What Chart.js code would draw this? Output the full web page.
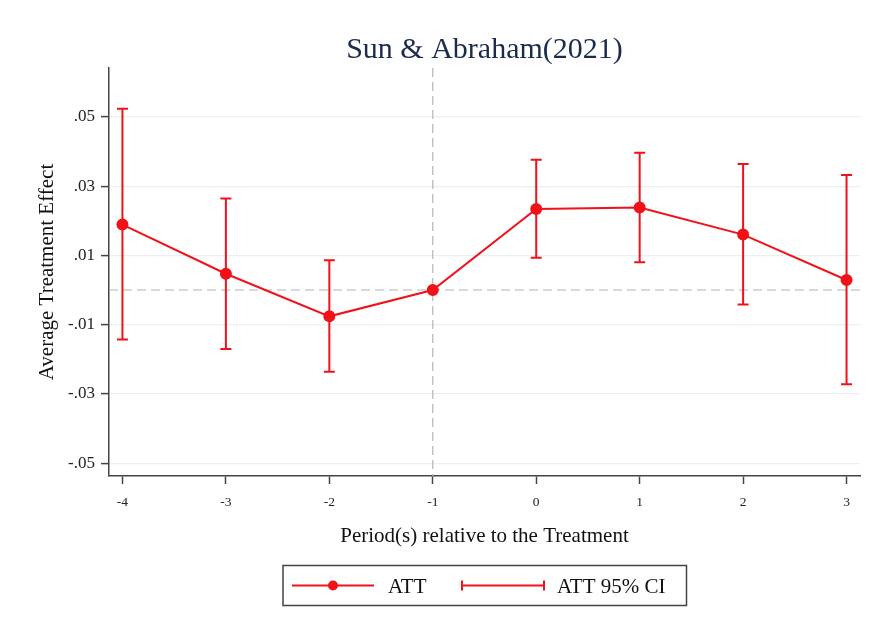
<!DOCTYPE html>
<html>
<head>
<meta charset="utf-8">
<script src="https://cdn.jsdelivr.net/npm/chart.js@4"></script>
<style>
  body { margin: 0; background: #fff; }
  #wrap { width: 873px; height: 628px; }
</style>
</head>
<body>
<div id="wrap"><canvas id="myChart" width="873" height="628"></canvas></div>
<script>
const periods = [-4, -3, -2, -1, 0, 1, 2, 3];
const att = [0.0189, 0.0047, -0.0076, 0, 0.0234, 0.0238, 0.0160, 0.0029];
const ciLow = [-0.0143, -0.0170, -0.0236, null, 0.0093, 0.0080, -0.0042, -0.0272];
const ciHigh = [0.0523, 0.0264, 0.0086, null, 0.0376, 0.0396, 0.0364, 0.0332];
const yTicks = [-0.05, -0.03, -0.01, 0.01, 0.03, 0.05];
const refPeriod = -1;
const refEffect = 0;

const red = '#f01218';
const serif = "'Liberation Serif', 'Times New Roman', serif";

function fmtTick(v) {
  // stata style: .05, -.01
  return v.toFixed(2).replace('0.', '.');
}

const refLines = {
  id: 'refLines',
  beforeDatasetsDraw(chart) {
    const { ctx, chartArea, scales } = chart;
    const x = scales.x.getPixelForValue(refPeriod);
    const y = scales.y.getPixelForValue(refEffect);
    ctx.save();
    ctx.strokeStyle = '#b4b4b4';
    ctx.lineWidth = 1.2;
    ctx.setLineDash([9, 5]);
    ctx.beginPath();
    ctx.moveTo(chartArea.left, y);
    ctx.lineTo(chartArea.right, y);
    ctx.moveTo(x, chartArea.top);
    ctx.lineTo(x, chartArea.bottom);
    ctx.stroke();
    ctx.restore();

    // confidence intervals
    ctx.save();
    ctx.strokeStyle = red;
    ctx.lineWidth = 2;
    periods.forEach((p, i) => {
      if (ciLow[i] === null) return;
      const px = scales.x.getPixelForValue(p);
      const lo = scales.y.getPixelForValue(ciLow[i]);
      const hi = scales.y.getPixelForValue(ciHigh[i]);
      ctx.beginPath();
      ctx.moveTo(px, lo);
      ctx.lineTo(px, hi);
      ctx.moveTo(px - 5.5, lo);
      ctx.lineTo(px + 5.5, lo);
      ctx.moveTo(px - 5.5, hi);
      ctx.lineTo(px + 5.5, hi);
      ctx.stroke();
    });
    ctx.restore();
  }
};

const titleAndLegend = {
  id: 'titleAndLegend',
  afterDraw(chart) {
    const { ctx, chartArea } = chart;
    ctx.save();
    ctx.fillStyle = '#1b2b4d';
    ctx.font = '30px ' + serif;
    ctx.textAlign = 'center';
    ctx.textBaseline = 'middle';
    ctx.fillText('Sun & Abraham(2021)', (chartArea.left + chartArea.right) / 2, 50);

    // legend box
    ctx.strokeStyle = '#444';
    ctx.lineWidth = 1.5;
    ctx.strokeRect(283, 565.5, 403.5, 40);

    ctx.strokeStyle = red;
    ctx.fillStyle = red;
    ctx.lineWidth = 2;
    ctx.beginPath();
    ctx.moveTo(292, 585.5);
    ctx.lineTo(374, 585.5);
    ctx.stroke();
    ctx.beginPath();
    ctx.arc(333, 585.5, 5, 0, Math.PI * 2);
    ctx.fill();

    ctx.beginPath();
    ctx.moveTo(461, 585.5);
    ctx.lineTo(545, 585.5);
    ctx.moveTo(462, 580.5);
    ctx.lineTo(462, 590.5);
    ctx.moveTo(544, 580.5);
    ctx.lineTo(544, 590.5);
    ctx.stroke();

    ctx.fillStyle = '#111';
    ctx.font = '21px ' + serif;
    ctx.textAlign = 'left';
    ctx.fillText('ATT', 388, 587);
    ctx.fillText('ATT 95% CI', 557, 587);
    ctx.restore();
  }
};

const ctx = document.getElementById('myChart');
new Chart(ctx, {
  type: 'line',
  data: {
    datasets: [{
      label: 'ATT',
      data: periods.map((p, i) => ({ x: p, y: att[i] })),
      borderColor: red,
      backgroundColor: red,
      borderWidth: 2,
      pointRadius: 5,
      pointHoverRadius: 5,
      tension: 0
    }]
  },
  options: {
    responsive: false,
    devicePixelRatio: 1,
    animation: false,
    layout: { padding: { left: 0, right: 13, top: 68, bottom: 72 } },
    plugins: {
      legend: { display: false },
      tooltip: { enabled: false }
    },
    scales: {
      x: {
        type: 'linear',
        min: -4.13,
        max: 3.13,
        afterBuildTicks: scale => { scale.ticks = periods.map(v => ({ value: v })); },
        afterFit: scale => { scale.height = 80; },
        ticks: {
          color: '#222',
          font: { family: serif, size: 13.5 },
          padding: 10,
          maxRotation: 0,
          callback: v => String(v)
        },
        grid: { drawOnChartArea: false, tickLength: 8, tickColor: '#444', tickWidth: 1.5 },
        border: { color: '#444', width: 1.5 },
        title: {
          display: true,
          text: 'Period(s) relative to the Treatment',
          color: '#111',
          font: { family: serif, size: 21, lineHeight: 1.2 },
          padding: { bottom: 7 }
        }
      },
      y: {
        min: -0.0537,
        max: 0.0641,
        afterBuildTicks: scale => { scale.ticks = yTicks.map(v => ({ value: v })); },
        afterFit: scale => { scale.width = 109; },
        ticks: {
          color: '#222',
          font: { family: serif, size: 17 },
          padding: 6,
          callback: v => fmtTick(v)
        },
        grid: { color: '#e9f0f3', lineWidth: 1.2, tickLength: 8, tickColor: '#444', tickWidth: 1.5 },
        border: { color: '#444', width: 1.5 },
        title: {
          display: true,
          text: 'Average Treatment Effect',
          color: '#111',
          font: { family: serif, size: 21, lineHeight: 1.2 },
          padding: { top: 35 }
        }
      }
    }
  },
  plugins: [refLines, titleAndLegend]
});
</script>
</body>
</html>
